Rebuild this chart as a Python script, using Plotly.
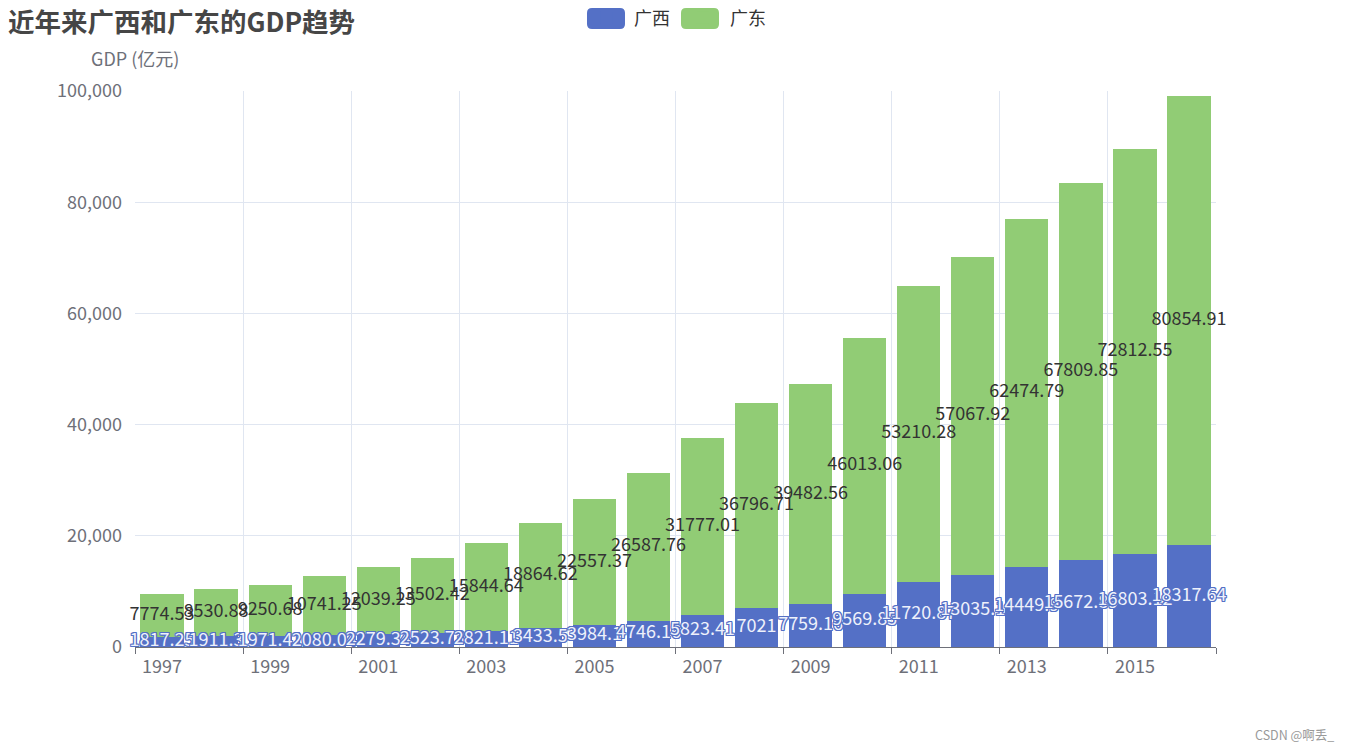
import plotly.graph_objects as go

years = [str(y) for y in range(1997, 2017)]
guangxi = [1817.25, 1911.3, 1971.41, 2080.04, 2279.34, 2523.73, 2821.11, 3433.5, 3984.1, 4746.16,
           5823.41, 7021, 7759.16, 9569.85, 11720.87, 13035.1, 14449.9, 15672.89, 16803.12, 18317.64]
guangdong = [7774.53, 8530.88, 9250.68, 10741.25, 12039.25, 13502.42, 15844.64, 18864.62, 22557.37, 26587.76,
             31777.01, 36796.71, 39482.56, 46013.06, 53210.28, 57067.92, 62474.79, 67809.85, 72812.55, 80854.91]
y_ticks = [0, 20000, 40000, 60000, 80000, 100000]

BLUE = "#5470c6"
GREEN = "#91cc75"
AXIS = "#6e7079"
GRID = "#e0e6f1"
FONT = "Microsoft YaHei, Noto Sans CJK SC, sans-serif"

# plot-area size in pixels (used only to convert legend-icon decoration sizes)
PW, PH = 1081, 556

xs = list(range(len(years)))

fig = go.Figure()
fig.add_trace(go.Bar(x=xs, y=guangxi, name="广西", marker=dict(color=BLUE, line=dict(width=0))))
fig.add_trace(go.Bar(x=xs, y=guangdong, name="广东", marker=dict(color=GREEN, line=dict(width=0))))


def outline(c):
    return ", ".join(f"{dx}px {dy}px 0 {c}" for dx, dy in [(1, 1), (-1, -1), (1, -1), (-1, 1), (1, 0), (-1, 0), (0, 1), (0, -1)])


gx_mid = [v / 2 for v in guangxi]
gd_mid = [a + b / 2 for a, b in zip(guangxi, guangdong)]
fig.add_trace(go.Scatter(x=xs, y=gx_mid, mode="text", text=[str(v) for v in guangxi],
                         textfont=dict(color="#eef1fb", size=18, family=FONT, shadow=outline(BLUE)),
                         showlegend=False, hoverinfo="skip", cliponaxis=False))
fig.add_trace(go.Scatter(x=xs, y=gd_mid, mode="text", text=[str(v) for v in guangdong],
                         textfont=dict(color="#333333", size=18, family=FONT),
                         showlegend=False, hoverinfo="skip", cliponaxis=False))


def rounded_icon(cx_px, cy_px, w=38, h=21, r=5):
    # legend icon decoration: rounded rectangle, given relative to plot-area pixels
    x0 = (cx_px - w / 2) / PW
    x1 = (cx_px + w / 2) / PW
    y0 = (PH - (cy_px + h / 2)) / PH
    y1 = (PH - (cy_px - h / 2)) / PH
    rx, ry = r / PW, r / PH
    return (f"M{x0 + rx:.5f},{y1:.5f} L{x1 - rx:.5f},{y1:.5f} Q{x1:.5f},{y1:.5f} {x1:.5f},{y1 - ry:.5f} "
            f"L{x1:.5f},{y0 + ry:.5f} Q{x1:.5f},{y0:.5f} {x1 - rx:.5f},{y0:.5f} L{x0 + rx:.5f},{y0:.5f} "
            f"Q{x0:.5f},{y0:.5f} {x0:.5f},{y0 + ry:.5f} L{x0:.5f},{y1 - ry:.5f} Q{x0:.5f},{y1:.5f} {x0 + rx:.5f},{y1:.5f} Z")


icon_shapes = [
    dict(type="path", xref="paper", yref="paper", path=rounded_icon(606 - 135, 18.5 - 91),
         fillcolor=BLUE, line=dict(width=0), layer="above"),
    dict(type="path", xref="paper", yref="paper", path=rounded_icon(700 - 135, 18.5 - 91),
         fillcolor=GREEN, line=dict(width=0), layer="above"),
]

fig.update_layout(
    width=1351, height=751,
    barmode="stack", bargap=0.2,
    plot_bgcolor="white", paper_bgcolor="white",
    margin=dict(l=127, r=143, t=83, b=112, autoexpand=False),
    font=dict(family=FONT, color=AXIS, size=18),
    title=dict(text="<b>近年来广西和广东的GDP趋势</b>", x=0.0, xref="container", xanchor="left",
               y=0.981, yref="container", yanchor="middle", pad=dict(l=0, t=0, b=0, r=0),
               font=dict(size=26.5, color="#464646", family=FONT)),
    legend=dict(orientation="h", x=0.4996, xanchor="center", bgcolor="rgba(0,0,0,0)",
                y=1.131, yref="paper", yanchor="middle", traceorder="normal", itemwidth=45,
                font=dict(size=18, color="#333333", family=FONT)),
    xaxis=dict(range=[-0.5, len(years) - 0.5], tickmode="array", tickvals=xs[::2], ticktext=years[::2],
               ticks="", showgrid=False, showline=True, linecolor=AXIS, linewidth=1,
               tickfont=dict(size=18, color=AXIS), ticklabelstandoff=3, zeroline=False,
               minor=dict(tickmode="linear", tick0=-0.5, dtick=2, ticks="outside", ticklen=6,
                          tickcolor=AXIS, showgrid=True, gridcolor=GRID, gridwidth=1)),
    yaxis=dict(range=[0, 100000], tickmode="array", tickvals=y_ticks, tickformat=",",
               showgrid=True, gridcolor=GRID, gridwidth=1, zeroline=False, showline=False,
               ticks="", tickfont=dict(size=18, color=AXIS), ticklabelstandoff=12),
    shapes=icon_shapes,
    annotations=[
        dict(text="GDP (亿元)", xref="paper", yref="paper", x=0, y=1, yshift=33, xanchor="center",
             yanchor="middle", showarrow=False, font=dict(size=18, color=AXIS, family=FONT)),
        dict(text="CSDN @啊丢_", xref="paper", yref="paper", x=1.073, y=-0.158, xanchor="center",
             yanchor="middle", showarrow=False, font=dict(size=12.5, color="#999999", family=FONT)),
    ],
)

fig.write_html("out.html")
